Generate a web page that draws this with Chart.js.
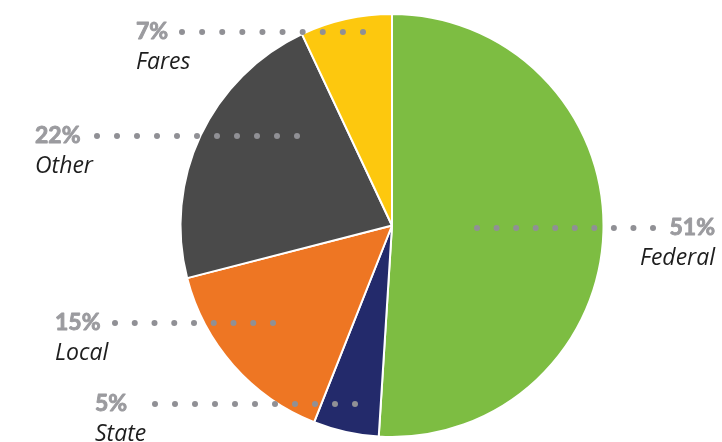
<!DOCTYPE html>
<html>
<head>
<meta charset="utf-8">
<script src="https://cdn.jsdelivr.net/npm/chart.js@4"></script>
<style>
  html, body { margin: 0; padding: 0; background: #fff; }
  #wrap { width: 722px; height: 442px; position: relative; }
</style>
</head>
<body>
<div id="wrap"><canvas id="fundingChart" width="722" height="442"></canvas></div>
<script>
// Funding sources, clockwise from 12 o'clock
const categories = ['Federal', 'State', 'Local', 'Other', 'Fares'];
const shares = [51, 5, 15, 22, 7];
const sliceColors = ['#7dbd42', '#232a6b', '#ee7623', '#4a4a4a', '#fdc80e'];

// where each callout sits: dotted leader row, text anchor and side
const callouts = [
    { y: 228, dotFrom: 477, dotTo: 653, textX: 715, align: 'right' },
    { y: 404, dotFrom: 155, dotTo: 355, textX: 95, align: 'left' },
    { y: 323, dotFrom: 115, dotTo: 273, textX: 55, align: 'left' },
    { y: 136, dotFrom: 97, dotTo: 297, textX: 35, align: 'left' },
    { y: 32, dotFrom: 182, dotTo: 363, textX: 136, align: 'left' }
];

const calloutPlugin = {
    id: 'callouts',
    afterDatasetsDraw(chart) {
        const ctx = chart.ctx;
        const values = chart.data.datasets[0].data;
        ctx.save();
        callouts.forEach((c, i) => {
            // dotted leader
            ctx.fillStyle = '#909095';
            const n = Math.round((c.dotTo - c.dotFrom) / 19.8);
            const step = (c.dotTo - c.dotFrom) / n;
            for (let k = 0; k <= n; k++) {
                ctx.beginPath();
                ctx.arc(c.dotFrom + k * step, c.y, 3, 0, Math.PI * 2);
                ctx.fill();
            }

            // percentage, a touch heavier than plain bold
            ctx.textAlign = c.align;
            ctx.textBaseline = 'middle';
            ctx.font = 'bold 23px Lato';
            ctx.fillStyle = '#9b9b9f';
            ctx.strokeStyle = '#9b9b9f';
            ctx.lineWidth = 0.9;
            ctx.lineJoin = 'round';
            ctx.fillText(values[i] + '%', c.textX, c.y);
            ctx.strokeText(values[i] + '%', c.textX, c.y);

            ctx.font = 'italic 23px "Open Sans"';
            ctx.fillStyle = '#1e1e1e';
            ctx.fillText(chart.data.labels[i], c.textX, c.y + 30);
        });
        ctx.restore();
    }
};

new Chart(document.getElementById('fundingChart'), {
    type: 'pie',
    data: {
        labels: categories,
        datasets: [{
            data: shares,
            backgroundColor: sliceColors,
            borderColor: '#ffffff',
            borderWidth: 2
        }]
    },
    options: {
        responsive: false,
        animation: false,
        layout: { padding: { top: 13, bottom: 4, left: 62, right: 0 } },
        plugins: {
            legend: { display: false },
            tooltip: { enabled: false }
        }
    },
    plugins: [calloutPlugin]
});
</script>
</body>
</html>
